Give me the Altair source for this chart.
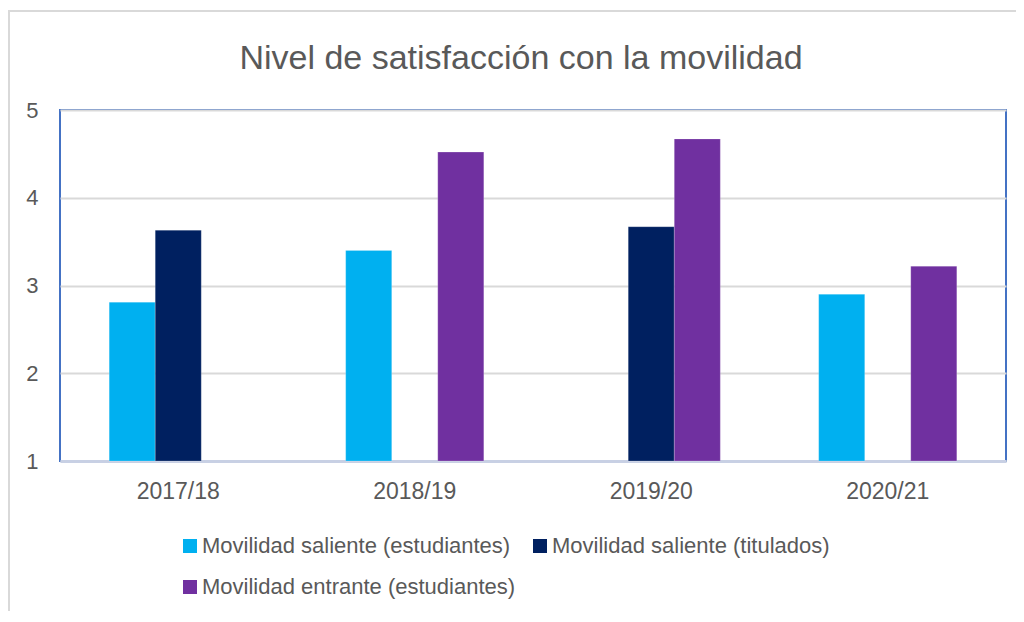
import altair as alt
import pandas as pd

years = ["2017/18", "2018/19", "2019/20", "2020/21"]
series = [
    "Movilidad saliente (estudiantes)",
    "Movilidad saliente (titulados)",
    "Movilidad entrante (estudiantes)",
]
saliente_est = [2.81, 3.40, None, 2.90]
saliente_tit = [3.63, None, 3.67, None]
entrante_est = [None, 4.52, 4.67, 3.22]
colors = ["#00b0f0", "#002060", "#7030a0"]
title_text = "Nivel de satisfacción con la movilidad"

rows = []
for s, vals in zip(series, [saliente_est, saliente_tit, entrante_est]):
    for y, v in zip(years, vals):
        if v is not None:
            rows.append({"year": y, "serie": s, "value": v})
df = pd.DataFrame(rows)

FONT = "Liberation Sans"
TXT = "#595959"

bars = alt.Chart(df).mark_bar(stroke="#ffffff", strokeWidth=0.5, strokeOpacity=0.4).encode(
    x=alt.X("year:N", sort=years,
            scale=alt.Scale(paddingInner=0.416, paddingOuter=0.208),
            axis=alt.Axis(title=None, labelAngle=0, labelFontSize=23, labelFont=FONT,
                          labelColor=TXT, ticks=False, labelPadding=19,
                          domainColor="#c8d0e4", domainWidth=3, grid=False)),
    xOffset=alt.XOffset("serie:N", sort=series,
                        scale=alt.Scale(domain=series, paddingInner=0, paddingOuter=0)),
    y=alt.Y("value:Q",
            scale=alt.Scale(domain=[1, 5], nice=False, zero=False),
            axis=alt.Axis(title=None, values=[1, 2, 3, 4, 5], format="d",
                          labelFontSize=22, labelFont=FONT, labelColor=TXT,
                          ticks=False, domain=False, labelPadding=22,
                          gridColor="#d9d9d9", gridWidth=2)),
    y2=alt.Y2(datum=1),
    color=alt.Color("serie:N", sort=series,
                    scale=alt.Scale(domain=series, range=colors),
                    legend=alt.Legend(title=None, orient="none", legendX=119, legendY=425,
                                      direction="horizontal",
                                      columns=2, columnPadding=13, rowPadding=19,
                                      symbolType="square", symbolSize=196,
                                      symbolStrokeWidth=0, labelFontSize=22,
                                      labelFont=FONT, labelColor=TXT, labelOffset=1,
                                      labelLimit=400, padding=0)),
)

frame_df = pd.DataFrame({"k": [0]})
frame_left = alt.Chart(frame_df).mark_rule(color="#d9d9d9", strokeWidth=2).encode(
    x=alt.value(-51), y=alt.value(-99), y2=alt.value(520)
)
frame_top = alt.Chart(frame_df).mark_rule(color="#d9d9d9", strokeWidth=2).encode(
    x=alt.value(-52), x2=alt.value(1000), y=alt.value(-99)
)
title = alt.Chart(frame_df).mark_text(
    text=title_text, font=FONT, fontSize=34, color=TXT, align="center",
    baseline="alphabetic"
).encode(x=alt.value(461), y=alt.value(-41))

chart = alt.layer(frame_left, frame_top, title, bars).properties(
    width=946, height=351,
    autosize=alt.AutoSizeParams(type="none"),
    padding={"left": 52, "top": 102, "right": 10, "bottom": 150},
    background="#ffffff",
).configure_view(stroke="#4472c4", strokeWidth=2)

chart.save("out.html", embed_options={"renderer": "svg", "actions": False})
